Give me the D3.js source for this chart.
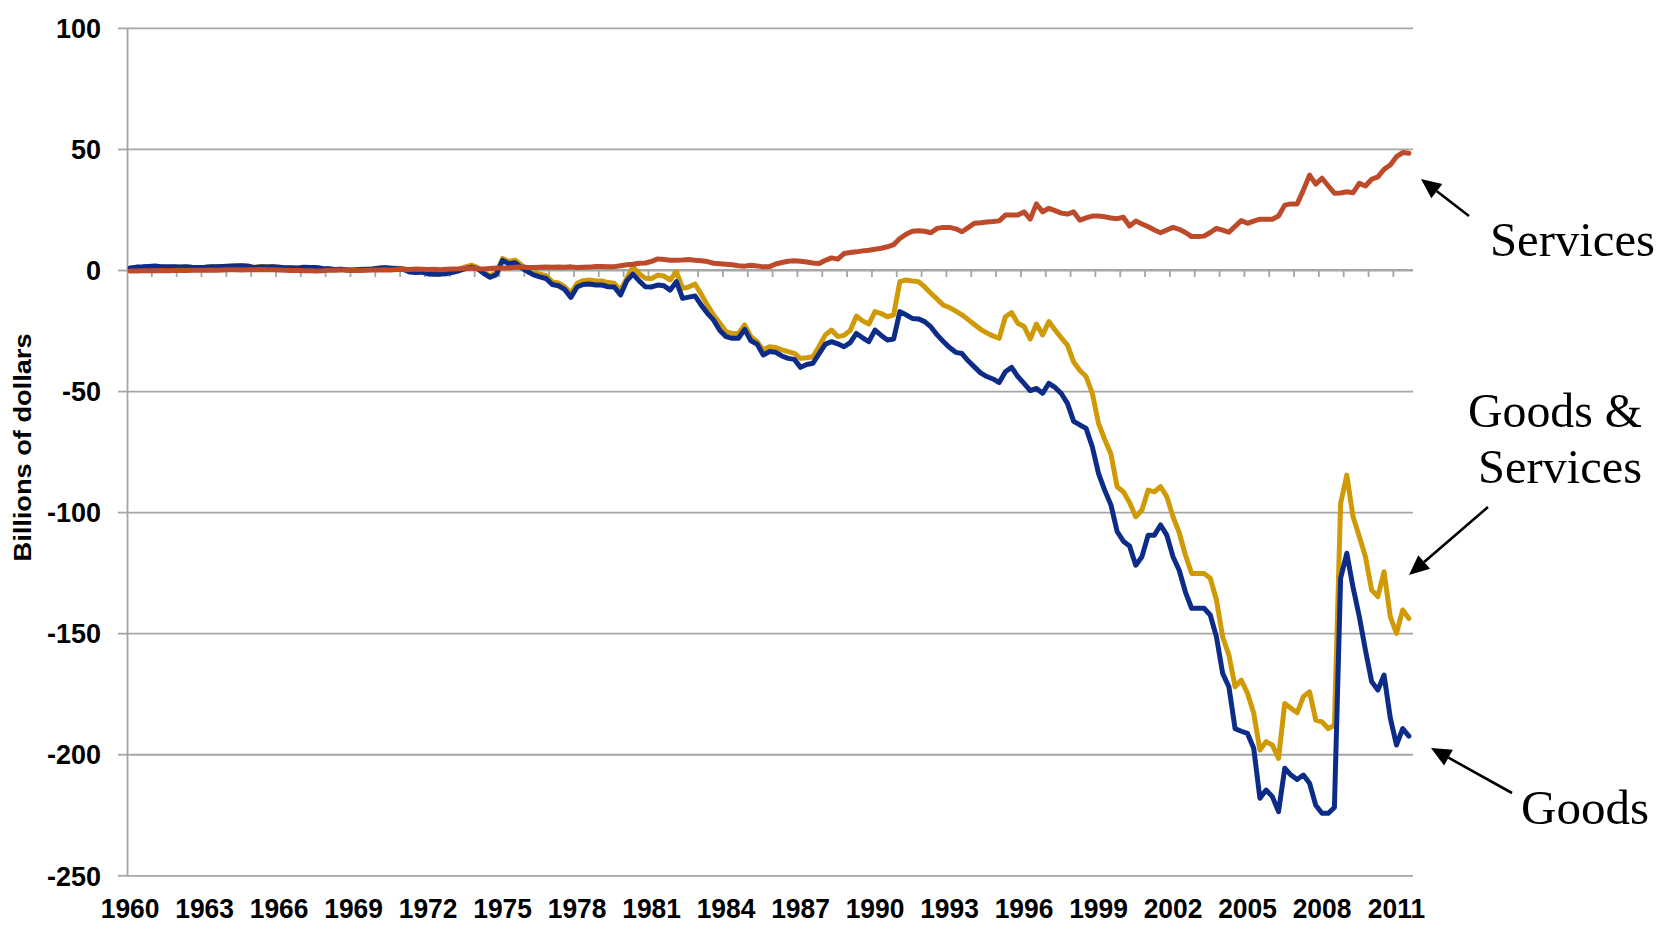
<!DOCTYPE html>
<html>
<head>
<meta charset="utf-8">
<script src="https://cdn.jsdelivr.net/npm/d3@7"></script>
<style>
  html, body { margin: 0; padding: 0; background: #fff; }
  svg { display: block; }
</style>
</head>
<body>
<svg id="chart" width="1671" height="930"></svg>
<script>
// ---------- DATA (quarterly, 1960Q1 - 2011Q3, billions of dollars) ----------
const startYear = 1960;
const tickYears = [1960,1963,1966,1969,1972,1975,1978,1981,1984,1987,1990,1993,1996,1999,2002,2005,2008,2011];
const yTicks = [-250,-200,-150,-100,-50,0,50,100];

const goods = [
  0.8, 1.2, 1.3, 1.5,   1.7, 1.4, 1.3, 1.4,   1.2, 1.3, 1.1, 1.0,   1.1, 1.3, 1.4, 1.5,
  1.6, 1.7, 1.8, 1.6,   1.0, 1.3, 1.2, 1.3,   1.1, 0.9, 0.9, 0.8,   1.1, 1.0, 1.0, 0.6,
  0.5, 0.2, 0.3, 0.0,   0.0, 0.2, 0.3, 0.4,   0.7, 0.9, 0.7, 0.5,   0.3, -0.8, -1.0, -0.9,
  -1.6, -1.8, -1.7, -1.5,   -0.9, -0.3, 0.6, 1.2,   0.5, -1.5, -3.0, -1.9,   4.0, 2.6, 3.0, 1.0,
  -0.6, -2.0, -2.8, -3.5,   -6.0, -6.5, -8.0, -11.3,   -7.0, -6.0, -5.8, -6.2,   -6.2, -6.9, -7.0, -10.3,
  -4.5, -1.7, -4.5, -6.9,   -7.0, -6.2, -6.5, -8.3,   -4.8, -11.7, -11.2, -10.7,   -14.5, -17.9, -20.7, -25.0,
  -27.5, -28.2, -28.2, -24.5,   -29.2, -30.6, -35.1, -33.7,   -34.0, -35.5, -36.5, -36.9,   -40.2, -39.0, -38.5, -34.5,
  -30.6, -29.6, -30.5, -31.7,   -30.0, -26.2, -28.0, -29.6,   -24.8, -27.0, -28.9, -28.5,   -17.2, -18.5, -20.0, -20.2,
  -21.3, -23.5, -26.8, -29.5,   -32.0, -34.0, -34.5, -37.5,   -40.0, -42.5, -44.0, -45.0,   -46.5, -42.0, -40.2, -44.0,
  -46.8, -49.8, -48.9, -50.9,   -46.8, -48.5, -51.0, -55.1,   -62.5, -64.0, -65.4, -73.0,   -84.0, -91.0, -97.0, -108.0,
  -112.0, -114.0, -121.9, -118.4,   -109.5, -109.5, -105.3, -109.5,   -118.4, -124.0, -133.0, -139.7,   -139.7, -139.7, -142.5, -151.5,
  -166.6, -172.1, -189.4, -190.5,   -191.4, -197.5, -218.2, -214.8,   -217.5, -223.7, -205.8, -208.6,   -210.4, -208.6, -212.0, -221.1,
  -224.4, -224.4, -222.0, -127.3,   -117.0, -131.0, -143.0, -157.0,   -170.0, -173.5, -167.3, -185.0,   -196.2, -189.4, -192.5
];

const goodsServices = [
  0.4, 0.8, 1.0, 1.2,   1.4, 1.2, 1.0, 1.2,   1.1, 1.1, 1.0, 0.9,   1.0, 1.3, 1.3, 1.5,
  1.7, 1.8, 1.8, 1.7,   1.1, 1.5, 1.3, 1.4,   1.1, 0.8, 0.7, 0.6,   0.8, 0.7, 0.6, 0.3,
  0.4, 0.1, 0.3, 0.0,   -0.1, 0.0, 0.2, 0.4,   0.7, 1.0, 0.7, 0.7,   0.6, -0.6, -0.6, -0.6,
  -1.4, -1.5, -1.6, -1.2,   -0.5, 0.2, 1.3, 2.0,   1.0, -1.1, -2.4, -1.1,   4.8, 3.5, 4.1, 2.2,
  0.4, -1.0, -1.7, -2.3,   -4.9, -5.3, -6.9, -9.6,   -5.5, -4.4, -4.1, -4.5,   -4.5, -5.2, -5.5, -8.3,
  -3.5, 1.4, -1.5, -3.4,   -3.5, -2.1, -2.5, -4.1,   -0.7, -7.6, -7.0, -5.8,   -10.0, -14.5, -18.6, -22.0,
  -25.5, -26.2, -26.2, -22.7,   -27.5, -29.6, -33.0, -31.7,   -32.0, -33.0, -33.7, -34.4,   -36.5, -36.2, -35.8, -31.5,
  -26.8, -24.8, -27.5, -27.0,   -25.0, -19.0, -21.0, -22.3,   -17.2, -18.0, -19.3, -18.5,   -4.8, -4.1, -4.5, -4.8,
  -7.0, -9.6, -12.0, -14.5,   -15.5, -17.0, -18.5, -20.5,   -22.5, -24.5, -26.0, -27.2,   -28.2, -19.3, -17.6, -22.0,
  -23.3, -28.5, -22.3, -26.8,   -21.3, -24.8, -28.0, -31.0,   -38.0, -41.5, -44.0, -50.9,   -63.3, -70.0, -76.0, -89.5,
  -91.6, -96.0, -101.9, -99.1,   -90.9, -91.6, -89.5, -93.6,   -101.9, -108.5, -117.7, -125.3,   -125.3, -125.3, -127.3, -136.3,
  -151.5, -159.0, -172.1, -169.4,   -174.8, -183.0, -198.3, -194.8,   -196.2, -201.7, -179.0, -181.0,   -182.9, -176.2, -174.2, -185.9,
  -186.6, -189.4, -188.0, -96.4,   -84.7, -101.9, -110.0, -118.4,   -132.2, -134.9, -124.6, -143.2,   -150.1, -140.4, -143.9
];

const services = [
  -0.4, -0.4, -0.3, -0.3,   -0.3, -0.2, -0.3, -0.2,   -0.1, -0.2, -0.1, -0.1,   -0.1, 0.0, -0.1, 0.0,
  0.1, 0.1, 0.0, 0.1,   0.1, 0.2, 0.1, 0.1,   0.0, -0.1, -0.2, -0.2,   -0.3, -0.3, -0.4, -0.3,
  -0.1, -0.1, 0.0, 0.0,   -0.1, -0.2, -0.1, 0.0,   0.0, 0.1, 0.0, 0.2,   0.3, 0.2, 0.4, 0.3,
  0.2, 0.3, 0.1, 0.3,   0.4, 0.5, 0.7, 0.8,   0.5, 0.4, 0.6, 0.8,   0.8, 0.9, 1.1, 1.2,
  1.0, 1.0, 1.1, 1.2,   1.1, 1.2, 1.1, 1.3,   1.0, 1.1, 1.2, 1.5,   1.5, 1.3, 1.4, 1.8,
  2.2, 2.4, 2.8, 2.9,   3.6, 4.6, 4.3, 4.0,   4.0, 4.1, 4.3, 4.0,   3.8, 3.5, 2.8, 2.6,
  2.4, 2.2, 1.8, 1.6,   2.0, 1.7, 1.3, 1.4,   2.5, 3.1, 3.6, 3.8,   3.6, 3.3, 2.9, 2.7,
  4.0, 5.0, 4.5, 6.8,   7.2, 7.5, 7.9, 8.2,   8.6, 9.0, 9.6, 10.5,   13.0, 14.8, 16.0, 16.2,
  16.0, 15.4, 17.2, 17.6,   17.6, 17.0, 15.8, 17.5,   19.3, 19.5, 19.8, 20.0,   20.3, 22.7, 22.7, 22.7,
  24.0, 21.0, 27.3, 24.0,   25.5, 24.5, 23.5, 23.1,   24.0, 20.6, 21.5, 22.3,   22.3, 22.0, 21.5, 21.2,
  21.8, 18.2, 20.2, 19.0,   17.9, 16.5, 15.4, 16.5,   17.6, 16.8, 15.5, 13.8,   13.8, 14.0, 15.5, 17.2,
  16.5, 15.6, 18.0, 20.4,   19.3, 20.2, 21.0, 21.0,   21.0, 22.3, 26.8, 27.3,   27.3, 33.0, 39.2, 35.5,
  37.9, 34.8, 31.7, 31.8,   32.3, 31.9, 35.8, 34.7,   37.5, 38.5, 41.6, 43.4,   46.8, 48.5, 48.2
];

const categories = goods.map((d, i) => (startYear + Math.floor(i / 4)) + "Q" + (i % 4 + 1));

const seriesNames = ["Goods & Services", "Goods", "Services"];
const seriesColors = ["#cf9a06", "#0c2c88", "#bd4a2b"];
const seriesValues = [goodsServices, goods, services];

const annotations = [
  { lines: ["Services"], xs: [1490], y: [256], len: [165], tail: [1469, 216], tip: [1421, 179] },
  { lines: ["Goods &", "Services"], xs: [1468, 1478], y: [427, 483], len: [174, 164], tail: [1488, 507], tip: [1409, 575] },
  { lines: ["Goods"], xs: [1521], y: [824], len: [128], tail: [1512, 793], tip: [1431, 748] }
];

// ---------- LAYOUT ----------
const svg = d3.select("#chart");
const plotLeft = 127, plotRight = 1412, plotTop = 27.9, plotBottom = 875.3;
const gridColor = "#a6a6a6";
const sansFont = "'Liberation Sans', Arial, sans-serif";

const x = d3.scaleBand().domain(categories).range([plotLeft, plotRight]).paddingInner(0).paddingOuter(0);
const y = d3.scaleLinear().domain([-250, 100]).range([plotBottom, plotTop]);
const cx = c => x(c) + x.bandwidth() / 2;

// gridlines
svg.append("g")
  .attr("transform", `translate(${plotLeft},0)`)
  .call(d3.axisLeft(y).tickValues(yTicks).tickSize(-(plotRight + 1 - plotLeft)).tickFormat(""))
  .call(g => g.select(".domain").remove())
  .call(g => g.selectAll("line").attr("stroke", gridColor).attr("stroke-width", 1.8));

// y axis with outward ticks and labels
const yAxisG = svg.append("g")
  .attr("transform", `translate(${plotLeft},0)`)
  .call(d3.axisLeft(y).tickValues(yTicks).tickSize(9).tickPadding(17).tickSizeOuter(0).tickFormat(d => String(d)));
yAxisG.select(".domain").attr("stroke", gridColor).attr("stroke-width", 1.8);
yAxisG.selectAll(".tick line").attr("stroke", gridColor).attr("stroke-width", 1.8);
yAxisG.selectAll(".tick text")
  .attr("font-family", sansFont).attr("font-weight", "bold").attr("font-size", 27)
  .attr("fill", "#000").attr("dy", "0.36em");

// horizontal category axis line at zero with tick marks every 4 quarters
const zeroAxis = svg.append("g");
zeroAxis.append("line")
  .attr("x1", plotLeft).attr("x2", plotRight + 1).attr("y1", y(0)).attr("y2", y(0))
  .attr("stroke", gridColor).attr("stroke-width", 1.8);
const yearStarts = categories.filter((c, i) => i % 4 === 0 && i > 0);
zeroAxis.selectAll("line.tk").data(yearStarts).join("line")
  .attr("class", "tk")
  .attr("x1", d => x(d)).attr("x2", d => x(d))
  .attr("y1", y(0)).attr("y2", y(0) + 7)
  .attr("stroke", gridColor).attr("stroke-width", 1.8);

// year labels at the bottom
const labelCats = tickYears.map(yr => yr + "Q1");
const xAxisG = svg.append("g")
  .attr("transform", `translate(0,${plotBottom})`)
  .call(d3.axisBottom(x).tickValues(labelCats).tickSize(0).tickPadding(23.5).tickFormat(d => d.slice(0, 4)));
xAxisG.select(".domain").remove();
xAxisG.selectAll(".tick text")
  .attr("font-family", sansFont).attr("font-weight", "bold").attr("font-size", 27.5)
  .attr("fill", "#000")
  .each(function() {
    const w = this.getComputedTextLength();
    if (w > 0) d3.select(this).attr("textLength", w * 0.96).attr("lengthAdjust", "spacingAndGlyphs");
  });

// y axis title
svg.append("text")
  .attr("transform", `translate(31,447.5) rotate(-90)`)
  .attr("text-anchor", "middle")
  .attr("font-family", sansFont).attr("font-weight", "bold").attr("font-size", 23)
  .attr("textLength", 228).attr("lengthAdjust", "spacingAndGlyphs")
  .attr("fill", "#000")
  .text("Billions of dollars");

// lines
const line = d3.line()
  .x((d, i) => cx(categories[i]))
  .y(d => y(d));
svg.append("g").selectAll("path").data(seriesValues).join("path")
  .attr("d", d => line(d))
  .attr("fill", "none")
  .attr("stroke", (d, i) => seriesColors[i])
  .attr("stroke-width", 5)
  .attr("stroke-linejoin", "round")
  .attr("stroke-linecap", "round");

// annotations
const ann = svg.append("g");
annotations.forEach(a => {
  a.lines.forEach((ln, k) => {
    ann.append("text")
      .attr("x", a.xs[k]).attr("y", a.y[k])
      .attr("font-family", "'Liberation Serif', 'Times New Roman', serif")
      .attr("font-size", 49)
      .attr("textLength", a.len[k]).attr("lengthAdjust", "spacingAndGlyphs")
      .attr("fill", "#000")
      .text(ln);
  });
  const [tx, ty] = a.tail, [hx, hy] = a.tip;
  const ang = Math.atan2(hy - ty, hx - tx);
  const hl = 20, hw = 9;
  const bx = hx - hl * Math.cos(ang), by = hy - hl * Math.sin(ang);
  ann.append("line")
    .attr("x1", tx).attr("y1", ty).attr("x2", bx).attr("y2", by)
    .attr("stroke", "#000").attr("stroke-width", 2.6);
  const px = -Math.sin(ang), py = Math.cos(ang);
  ann.append("path")
    .attr("d", `M${hx},${hy}L${bx + hw * px},${by + hw * py}L${bx - hw * px},${by - hw * py}Z`)
    .attr("fill", "#000");
});
</script>
</body>
</html>
